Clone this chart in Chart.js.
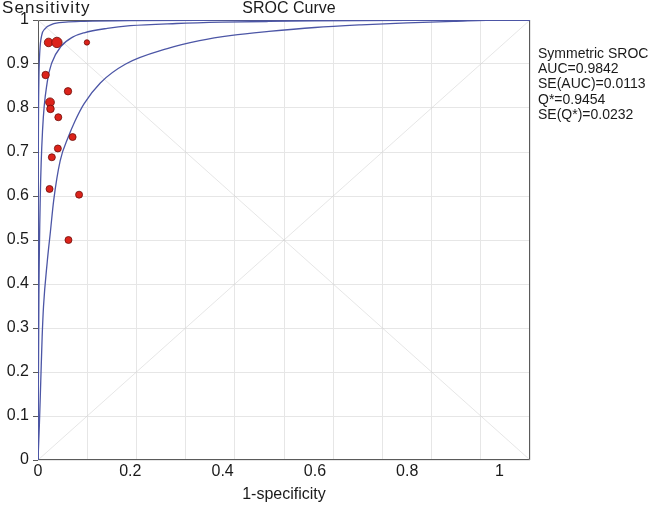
<!DOCTYPE html>
<html>
<head>
<meta charset="utf-8">
<script src="https://cdn.jsdelivr.net/npm/chart.js@4.4.1/dist/chart.umd.min.js"></script>
<style>
  html, body { margin: 0; padding: 0; background: #fff; }
  #wrap { width: 650px; height: 506px; }
</style>
</head>
<body>
<div id="wrap"><canvas id="sroc" width="650" height="506"></canvas></div>
<script>
// study points (1-specificity, sensitivity) and marker size (weight)
var fpr = [0.023, 0.041, 0.106, 0.0165, 0.065, 0.026, 0.027, 0.044, 0.075, 0.043, 0.030, 0.025, 0.089, 0.066];
var sens = [0.949, 0.949, 0.949, 0.875, 0.838, 0.813, 0.798, 0.779, 0.734, 0.708, 0.688, 0.616, 0.603, 0.500];
var weight = [4.3, 5.2, 2.7, 3.7, 3.7, 4.4, 3.8, 3.5, 3.5, 3.5, 3.5, 3.5, 3.5, 3.5];

// SROC curve and its two bounds
var midX = [0, 0.002, 0.005, 0.01, 0.02, 0.03, 0.05, 0.075, 0.1, 0.15, 0.2, 0.3, 0.4, 0.5, 0.6, 0.7, 0.8, 0.9, 1.0, 1.066];
var midY = [0, 0.375, 0.60, 0.752, 0.859, 0.903, 0.940, 0.961, 0.971, 0.981, 0.987, 0.992, 0.995, 0.9967, 0.9978, 0.9986, 0.9992, 0.9996, 1, 1];
var upperX = [0, 0.0005, 0.001, 0.002, 0.004, 0.008, 0.015, 0.03, 0.06, 0.1, 0.2, 0.4, 0.7, 1.0, 1.066];
var upperY = [0, 0.62, 0.77, 0.87, 0.93, 0.965, 0.98, 0.99, 0.995, 0.997, 0.9988, 0.9995, 0.9999, 1, 1];
var lowerX = [0, 0.003, 0.006, 0.009, 0.012, 0.02, 0.027, 0.034, 0.048, 0.066, 0.08, 0.1, 0.135, 0.19, 0.28, 0.35, 0.42, 0.5, 0.6, 0.7, 0.8, 0.9, 1.0, 1.066];
var lowerY = [0, 0.08, 0.18, 0.28, 0.35, 0.45, 0.52, 0.59, 0.68, 0.735, 0.77, 0.81, 0.857, 0.90, 0.935, 0.953, 0.965, 0.974, 0.983, 0.989, 0.9936, 0.997, 1, 1];

var xTicks = [0, 0.2, 0.4, 0.6, 0.8, 1];
var yTicks = [0, 0.1, 0.2, 0.3, 0.4, 0.5, 0.6, 0.7, 0.8, 0.9, 1];
var xMax = 1.066;

var statLines = ["Symmetric SROC", "AUC=0.9842", "SE(AUC)=0.0113", "Q*=0.9454", "SE(Q*)=0.0232"];

var FONT = "'Liberation Sans', Arial, Helvetica, sans-serif";
var CURVE = "#4c56a6";

function pairs(xs, ys) {
  return xs.map(function (x, i) { return { x: x, y: ys[i] }; });
}

function plainLabel(v) {
  return String(Math.round(v * 10) / 10);
}

document.addEventListener("DOMContentLoaded", function () {
  var textPlugin = {
    id: "srocText",
    beforeDatasetsDraw: function (chart) {
      var a = chart.chartArea, ctx = chart.ctx;
      ctx.save();
      ctx.strokeStyle = "#5a5a5a";
      ctx.lineWidth = 1;
      ctx.strokeRect(a.left + 0.5, a.top + 0.5, a.right - a.left - 1, a.bottom - a.top - 1);
      ctx.restore();
    },
    afterDraw: function (chart) {
      var ctx = chart.ctx;
      ctx.save();
      ctx.fillStyle = "#1a1a1a";
      ctx.textBaseline = "alphabetic";
      ctx.textAlign = "left";
      ctx.font = "17px " + FONT;
      ctx.letterSpacing = "1.1px";
      ctx.fillText("Sensitivity", 2, 13);
      ctx.letterSpacing = "0px";
      ctx.font = "16px " + FONT;
      ctx.textAlign = "center";
      ctx.fillText("SROC Curve", 289, 13);
      ctx.textAlign = "left";
      ctx.font = "14px " + FONT;
      statLines.forEach(function (t, i) {
        ctx.fillText(t, 538, 58 + i * 15.2);
      });
      ctx.restore();
    }
  };

  new Chart(document.getElementById("sroc"), {
    data: {
      datasets: [
        {
          type: "scatter",
          data: pairs(fpr, sens),
          pointRadius: weight,
          pointHoverRadius: weight,
          backgroundColor: "#dc231b",
          borderColor: "#6e0c08",
          pointBorderWidth: 0.8,
        },
        {
          type: "line",
          data: pairs(upperX, upperY),
          borderColor: CURVE,
          borderWidth: 1.3,
          pointRadius: 0,
          cubicInterpolationMode: "monotone",
        },
        {
          type: "line",
          data: pairs(midX, midY),
          borderColor: CURVE,
          borderWidth: 1.3,
          pointRadius: 0,
          cubicInterpolationMode: "monotone",
        },
        {
          type: "line",
          data: pairs(lowerX, lowerY),
          borderColor: CURVE,
          borderWidth: 1.3,
          pointRadius: 0,
          cubicInterpolationMode: "monotone",
        },
        {
          type: "line",
          data: [{ x: 0, y: 0 }, { x: xMax, y: 1 }],
          borderColor: "rgba(200,200,200,0.45)",
          borderWidth: 1,
          pointRadius: 0,
        },
        {
          type: "line",
          data: [{ x: 0, y: 1 }, { x: xMax, y: 0 }],
          borderColor: "rgba(200,200,200,0.45)",
          borderWidth: 1,
          pointRadius: 0,
        },
      ],
    },
    options: {
      responsive: false,
      animation: false,
      layout: { padding: { top: 20, right: 120, left: 0, bottom: 0 } },
      plugins: {
        legend: { display: false },
        tooltip: { enabled: false },
      },
      scales: {
        x: {
          type: "linear",
          min: 0,
          max: xMax,
          afterBuildTicks: function (s) {
            s.ticks = xTicks.map(function (v) { return { value: v }; });
          },
          afterFit: function (s) { s.height = 46; },
          grid: { display: false },
          border: { display: false },
          ticks: {
            color: "#1a1a1a",
            font: { family: FONT, size: 16 },
            padding: -6,
            maxRotation: 0,
            autoSkip: false,
            callback: plainLabel,
          },
          title: {
            display: true,
            text: "1-specificity",
            color: "#1a1a1a",
            font: { family: FONT, size: 16 },
            padding: { top: 0, bottom: 2 },
          },
        },
        xg: {
          type: "linear",
          position: "bottom",
          min: 0,
          max: 10,
          afterFit: function (s) { s.height = 0; },
          grid: { color: "#e6e6e6", drawTicks: false },
          border: { display: false },
          ticks: { display: false, stepSize: 1 },
        },
        y: {
          type: "linear",
          min: 0,
          max: 1,
          afterBuildTicks: function (s) {
            s.ticks = yTicks.map(function (v) { return { value: v }; });
          },
          afterFit: function (s) { s.width = 38; },
          grid: { color: "#e6e6e6", tickColor: "#5a5a5a", tickLength: 5 },
          border: { display: false },
          ticks: {
            color: "#1a1a1a",
            font: { family: FONT, size: 16 },
            padding: 4,
            autoSkip: false,
            callback: plainLabel,
          },
        },
      },
    },
    plugins: [textPlugin],
  });
});
</script>
</body>
</html>
